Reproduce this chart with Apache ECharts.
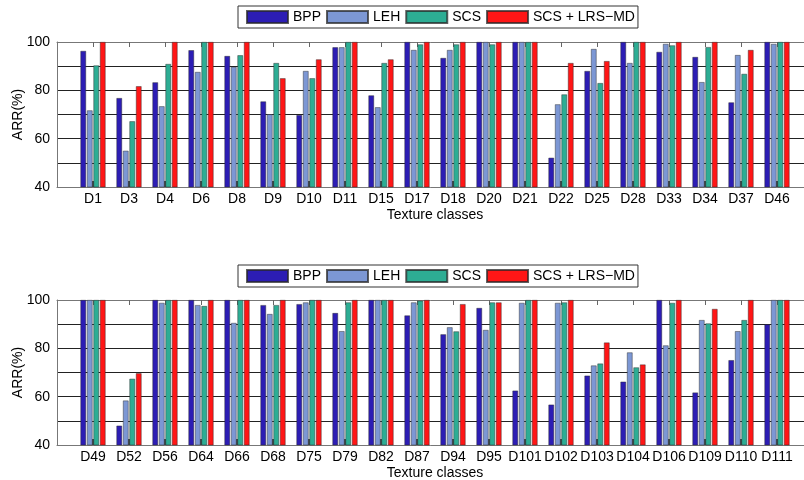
<!DOCTYPE html>
<html><head><meta charset="utf-8">
<script src="https://cdn.jsdelivr.net/npm/echarts@6/dist/echarts.min.js"></script>
<style>html,body{margin:0;padding:0;background:#fff}#c{width:804px;height:480px}</style>
</head><body><div id="c"></div>
<script>
const seriesNames = ['BPP', 'LEH', 'SCS', 'SCS + LRS\u2212MD'];
const seriesColors = ['#2C1DB4', '#7C97D4', '#2DAD94', '#FF1616'];

const categoriesTop = ['D1','D3','D4','D6','D8','D9','D10','D11','D15','D17','D18','D20','D21','D22','D25','D28','D33','D34','D37','D46'];
const bppTop  = [96.3, 76.8, 83.3, 96.6, 94.2, 75.4, 69.8, 97.8, 77.9, 100, 93.4, 100, 100, 52.1, 88.0, 100, 95.9, 93.8, 75.0, 100];
const lehTop  = [71.7, 55.0, 73.4, 87.6, 89.7, 70.1, 88.0, 97.8, 73.0, 96.7, 96.7, 100, 100, 74.2, 97.1, 91.3, 99.2, 83.4, 94.6, 99.2];
const scsTop  = [90.3, 67.2, 90.9, 100, 94.5, 91.3, 85.0, 100, 91.3, 99.0, 99.0, 99.0, 100, 78.3, 83.0, 100, 98.6, 97.9, 86.8, 100];
const lrsTop  = [100, 81.7, 100, 100, 100, 85.0, 92.8, 100, 92.8, 100, 100, 100, 100, 91.3, 92.1, 100, 100, 100, 96.7, 100];

const categoriesBottom = ['D49','D52','D56','D64','D66','D68','D75','D79','D82','D87','D94','D95','D101','D102','D103','D104','D106','D109','D110','D111'];
const bppBottom = [100, 48.0, 100, 100, 100, 97.9, 98.3, 94.6, 100, 93.6, 85.8, 96.7, 62.5, 56.7, 68.7, 66.2, 100, 61.7, 75.1, 89.9];
const lehBottom = [100, 58.4, 98.8, 97.9, 90.5, 94.2, 99.0, 87.1, 100, 99.0, 88.7, 87.6, 98.8, 98.8, 72.9, 78.3, 81.2, 91.7, 87.1, 100];
const scsBottom = [100, 67.4, 100, 97.5, 100, 97.9, 100, 99.0, 100, 99.7, 87.0, 99.0, 100, 99.0, 73.7, 72.1, 98.8, 90.3, 91.7, 100];
const lrsBottom = [100, 69.7, 100, 100, 100, 100, 100, 100, 100, 100, 98.3, 99.0, 100, 100, 82.4, 73.3, 100, 96.3, 100, 100];

const yTickLabels = [40, 60, 80, 100];
const xAxisTitle = 'Texture classes';
const yAxisTitle = 'ARR(%)';

const FONT = 'Liberation Sans, Arial, Helvetica, sans-serif';
const positions = categoriesTop.map((_, i) => i + 1);

const panels = [
  {cats: categoriesTop, vals: [bppTop, lehTop, scsTop, lrsTop], top: 42, legendTop: 6},
  {cats: categoriesBottom, vals: [bppBottom, lehBottom, scsBottom, lrsBottom], top: 300, legendTop: 265}
];

const grid = [], xAxis = [], yAxis = [], series = [], legend = [];
panels.forEach((p, k) => {
  grid.push({left: 57, top: p.top, width: 756, height: 145, containLabel: false, outerBoundsMode: 'none'});
  xAxis.push({
    type: 'value', gridIndex: k, min: 0, max: 21, interval: 1, position: 'bottom',
    name: xAxisTitle, nameLocation: 'middle', nameGap: 21, nameMoveOverlap: false,
    nameTextStyle: {fontFamily: FONT, fontSize: 14, color: '#000'},
    axisLine: {show: true, lineStyle: {color: '#777', width: 1}},
    axisTick: {show: true, inside: true, length: 6, customValues: positions, lineStyle: {color: '#000', width: 1.5}},
    axisLabel: {show: true, customValues: positions, margin: 5, fontFamily: FONT, fontSize: 14, color: '#000',
      formatter: v => p.cats[v - 1] || ''},
    splitLine: {show: false}
  });
  xAxis.push({
    type: 'value', gridIndex: k, min: 0, max: 21, interval: 1, position: 'top',
    axisLine: {show: true, lineStyle: {color: '#777', width: 1}},
    axisTick: {show: true, inside: true, length: 5, customValues: positions, lineStyle: {color: '#666', width: 1}},
    axisLabel: {show: false},
    splitLine: {show: false}
  });
  yAxis.push({
    type: 'value', gridIndex: k, min: 40, max: 100, interval: 10,
    name: yAxisTitle, nameLocation: 'middle', nameGap: 32, nameMoveOverlap: false,
    nameTextStyle: {fontFamily: FONT, fontSize: 14, color: '#000'},
    axisLine: {show: true, lineStyle: {color: '#777', width: 1}},
    axisTick: {show: false},
    axisLabel: {customValues: yTickLabels, margin: 7, fontFamily: FONT, fontSize: 14, color: '#000'},
    splitLine: {show: true, showMinLine: false, showMaxLine: false, lineStyle: {color: '#222', width: 1}}
  });
  seriesNames.forEach((name, j) => {
    series.push({
      type: 'bar', name: name, xAxisIndex: 2 * k, yAxisIndex: k,
      barWidth: 5.6, barGap: '16%',
      itemStyle: {color: seriesColors[j], borderColor: 'rgba(40,40,40,0.75)', borderWidth: 0.6},
      emphasis: {disabled: true},
      data: p.vals[j].map((v, i) => [positions[i], v])
    });
  });
  legend.push({
    data: seriesNames, left: 238, top: p.legendTop, orient: 'horizontal',
    itemWidth: 41, itemHeight: 12, itemGap: 5,
    padding: [4, 3, 4, 8], borderColor: '#333', borderWidth: 1, backgroundColor: '#fff',
    icon: 'rect', selectedMode: false,
    textStyle: {fontFamily: FONT, fontSize: 14, color: '#000'}
  });
});

const chart = echarts.init(document.getElementById('c'), null, {renderer: 'canvas'});
chart.setOption({
  animation: false,
  backgroundColor: '#fff',
  grid, xAxis, yAxis, series, legend
});
</script>
</body></html>
